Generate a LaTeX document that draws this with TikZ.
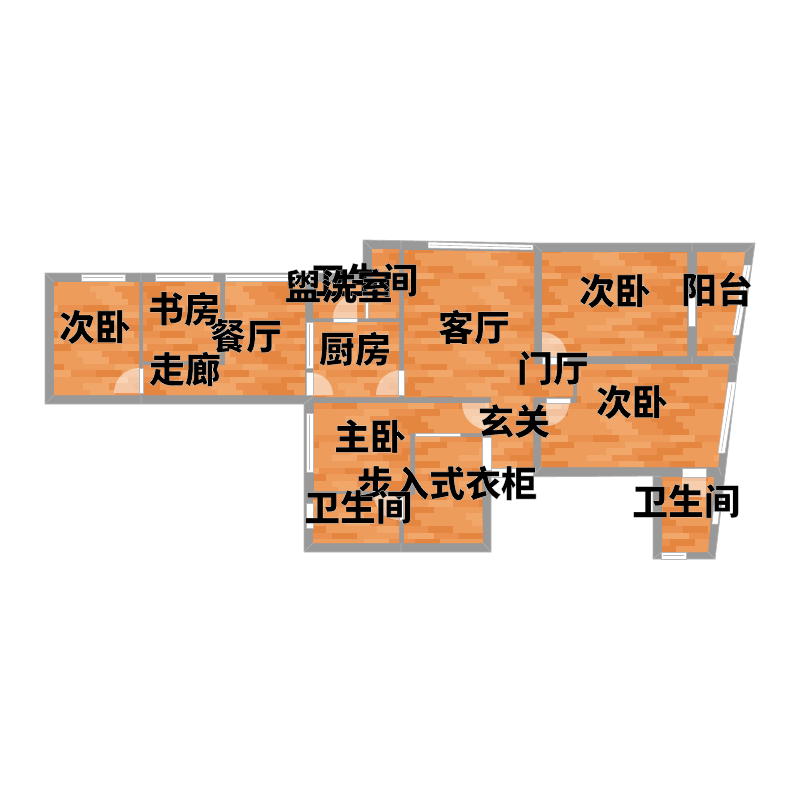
\documentclass[tikz,border=0pt]{standalone}
\usepackage{fontspec}
\newfontfamily\cjk[FakeBold=.6]{Noto Sans CJK SC Black}
\definecolor{wallgray}{HTML}{999999}
\definecolor{walledge}{HTML}{B5B5B5}
\definecolor{woodA}{HTML}{EA9150}
\definecolor{woodB}{HTML}{F1A769}
\definecolor{woodC}{HTML}{E58640}
\definecolor{woodD}{HTML}{EE9C5B}
\tikzset{
  wall/.style={fill=wallgray,draw=walledge,line width=.8pt,line join=miter},
  mitre/.style={draw=walledge,line width=.6pt},
  pane/.style={fill=white,draw=wallgray!70,line width=.5pt},
  slit/.style={draw=wallgray!70,line width=.6pt},
  swing/.style={fill=white,fill opacity=.5},
  label/.style={inner sep=0pt,font=\fontsize{36}{36}\selectfont\cjk},
}
\newcommand{\roomtext}[1]{\special{pdf:bc [0] [1]}#1\special{pdf:ec}}
\begin{document}
\begin{tikzpicture}[x=1pt,y=-1pt]
\useasboundingbox (0,0) rectangle (800,800);
\fill[white] (0,0) rectangle (800,800);
% walls: whole outline
\path[wall] (45,273) -- (363,273) -- (363,240) -- (533,243) -- (755,243) -- (738,364)
  -- (715,559) -- (653,559) -- (653,476) -- (491,477) -- (491,552) -- (304,552)
  -- (304,404) -- (45,404) -- cycle;
% floors
\begin{scope}
\clip (54,282) rectangle (139,395)
  (143,282) rectangle (220,361)
  (143,365) rectangle (225,395)
  (225,282) rectangle (305,395)
  (313,282) rectangle (365,318)
  (372,249) rectangle (399,282)
  (368,282) rectangle (399,318)
  (313,322) rectangle (399,397)
  (404,250) -- (534,252) -- (534,364) -- (573,364) -- (573,397) -- (533,397) -- (533,468) -- (491,468) -- (491,397) -- (404,397) -- cycle
  (314,403) -- (491,403) -- (491,433) -- (410,433) -- (410,491) -- (314,491) -- cycle
  (415,437) -- (482,437) -- (482,494) -- (483,543) -- (404,543) -- (404,495) -- (415,495) -- cycle
  (313,494) rectangle (399,543)
  (542,252) rectangle (687,356)
  (697,252) -- (745,252) -- (733,356) -- (697,356) -- cycle
  (577,364) -- (729,364) -- (718,467) -- (541,467) -- (541,403) -- (577,403) -- cycle
  (662,477) -- (714,477) -- (708,552) -- (662,552) -- cycle;
\fill[woodA] (45,240) rectangle (755,560);
\foreach \r in {0,...,49}{
  \pgfmathsetmacro{\yt}{240+6.5*\r}
  \pgfmathsetmacro{\yb}{\yt+6.5}
  \pgfmathtruncatemacro{\shift}{mod(\r*11,4)}
  \foreach \c in {0,...,28}{
    \pgfmathsetmacro{\xl}{45+25.5*\c-6.4*\shift}
    \pgfmathsetmacro{\xr}{\xl+25.5}
    \pgfmathtruncatemacro{\k}{mod(\r*5+\c*3+\r*\r,5)}
    \ifcase\k\relax
      \fill[woodB] (\xl,\yt) rectangle (\xr,\yb);
    \or
      \fill[woodC] (\xl,\yt) rectangle (\xr,\yb);
    \or
      \fill[woodD] (\xl,\yt) rectangle (\xr,\yb);
    \or
      \fill[woodA] (\xl,\yt) rectangle (\xr,\yb);
    \else
      \fill[woodD] (\xl,\yt) rectangle (\xr,\yb);
    \fi
  }
}
\end{scope}
% mitre lines at wall corners
\draw[mitre] (45,273)--(54,282) (45,404)--(54,395) (141,273)--(141,282) (141,395)--(141,404)
  (363,240)--(372,249) (401,241)--(401,250) (533,243)--(542,252) (755,243)--(745,252)
  (692,243)--(692,252) (692,356)--(692,364) (738,364)--(729,364) (733,356)--(738,364)
  (304,552)--(313,543) (491,552)--(483,543) (401,543)--(401,552)
  (653,559)--(662,552) (715,559)--(708,552) (653,476)--(662,477) (718,467)--(722,476)
  (304,404)--(313,397) (533,476)--(541,467);
% windows
\path[pane] (81,274) rectangle (125,281);
\path[pane] (155,274) rectangle (213,281);
\path[pane] (225,274) rectangle (313,281);
\path[pane] (428,242) -- (533,245) -- (533,250) -- (428,248) -- cycle;
\path[pane] (306,322) rectangle (313,368);
\path[pane] (306,413) rectangle (313,472);
\path[pane] (306,503) rectangle (313,528);
\path[pane] (751,265) -- (744,265) -- (732.5,335) -- (739,335) -- cycle;
\path[pane] (736,382) -- (728,382) -- (718,453) -- (725,453) -- cycle;
\path[pane] (721,495) -- (715,495) -- (712,524) -- (718,524) -- cycle;
\path[pane] (661,552) rectangle (686,559);
\path[pane] (415,433.5) rectangle (460,436.5);
\path[pane] (365,302) rectangle (368,318);
\path[pane] (688,297) rectangle (695,326);
% window centre lines
\draw[slit] (83,277.5)--(123,277.5) (157,277.5)--(211,277.5) (227,277.5)--(311,277.5)
  (430,245)--(531,247.5) (309.5,324)--(309.5,366) (309.5,415)--(309.5,470)
  (747.5,267)--(735.5,333) (732,384)--(721.5,451) (663,555.5)--(684,555.5);
% door leaves and swings
\fill[swing] (139,393) -- (114,393) arc (180:270:25) -- cycle;
\path[pane] (139,368) rectangle (143,393);
\fill[swing] (313,395) -- (333,395) arc (0:-90:22) -- cycle;
\path[pane] (306,372) rectangle (313,395);
\fill[swing] (398,395) -- (376,395) arc (180:270:25) -- cycle;
\path[pane] (398,370) rectangle (404,395);
\fill[swing] (357,318) -- (333,318) arc (180:270:24) -- cycle;
\path[pane] (333,318) rectangle (357,322);
\fill[swing] (489,403) -- (462,403) arc (180:90:27) -- cycle;
\fill[swing] (546,403) -- (569,403) arc (0:90:23) -- cycle;
\path[pane] (546,398) rectangle (570,403);
\fill[swing] (542,357) -- (567,357) arc (0:-90:25) -- cycle;
\path[pane] (542,357) rectangle (567,364);
\fill[swing] (682,477) rectangle (706,497);
\path[pane] (682,468) rectangle (706,477);
\fill[swing] (399,495) -- (374,495) arc (180:90:25) -- cycle;
\path[pane] (399,494) rectangle (403,520);
\path[pane] (482,437) rectangle (491,470);
\path[pane] (491,468) rectangle (533,477);
% labels
\node[label] (r1) at (95,327) {\roomtext{次卧}};
\node[label] (r2) at (184,309) {\roomtext{书房}};
\node[label] (r3) at (246,336) {\roomtext{餐厅}};
\node[label] (r4) at (185,369) {\roomtext{走廊}};
\node[label] (r5) at (364,280) {\roomtext{卫生间}};
\node[label] (r6) at (339,286) {\roomtext{盥洗室}};
\node[label] (r7) at (355,349) {\roomtext{厨房}};
\node[label] (r8) at (474,327) {\roomtext{客厅}};
\node[label] (r9) at (615,291) {\roomtext{次卧}};
\node[label] (r10) at (717,289) {\roomtext{阳台}};
\node[label] (r11) at (553,368) {\roomtext{门厅}};
\node[label] (r12) at (632,402) {\roomtext{次卧}};
\node[label] (r13) at (514,421) {\roomtext{玄关}};
\node[label] (r14) at (370,436) {\roomtext{主卧}};
\node[label] (r15) at (447,483) {\roomtext{步入式衣柜}};
\node[label] (r16) at (358,507) {\roomtext{卫生间}};
\node[label] (r17) at (686,501) {\roomtext{卫生间}};
\end{tikzpicture}
\end{document}
